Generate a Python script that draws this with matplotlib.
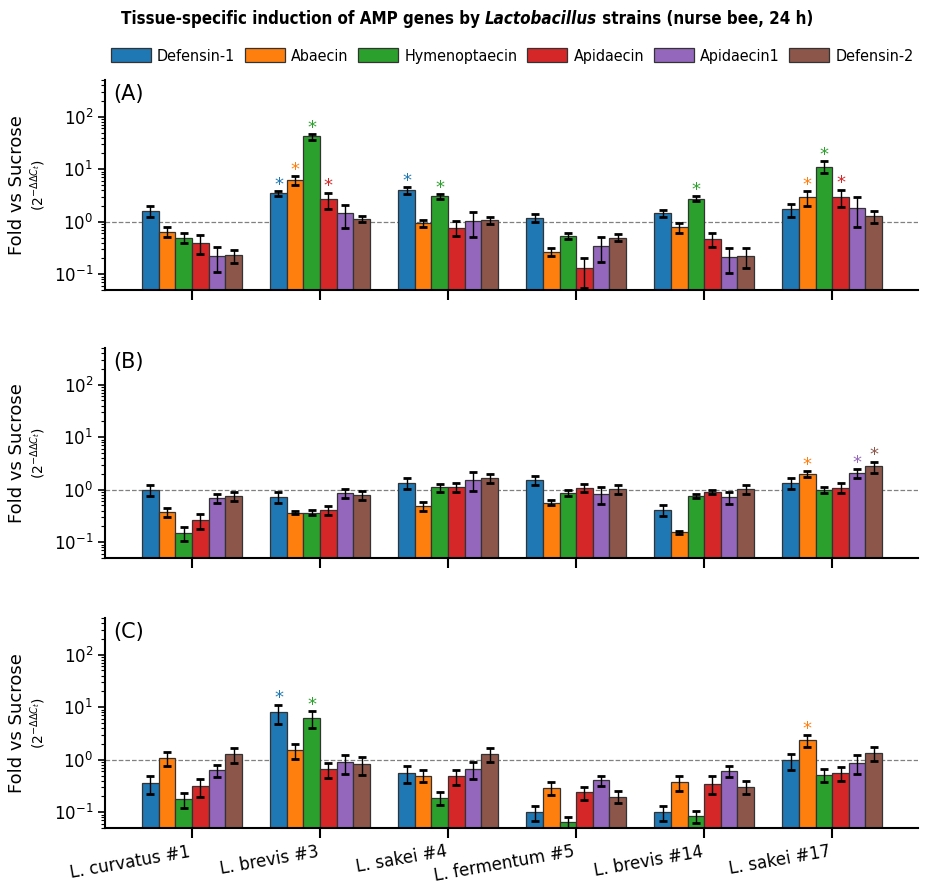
import numpy as np
import matplotlib
matplotlib.use("Agg")
import matplotlib.pyplot as plt
from matplotlib.ticker import LogLocator, NullFormatter

strains = ["L. curvatus #1", "L. brevis #3", "L. sakei #4",
           "L. fermentum #5", "L. brevis #14", "L. sakei #17"]
genes = ["Defensin-1", "Abaecin", "Hymenoptaecin", "Apidaecin", "Apidaecin1", "Defensin-2"]
colors = ["#1f77b4", "#ff7f0e", "#2ca02c", "#d62728", "#9467bd", "#8c564b"]

# fold change per strain (rows) and gene (columns)
fold_A = [[1.62, 0.65, 0.50, 0.40, 0.22, 0.23],
          [3.46, 6.2, 42.0, 2.66, 1.44, 1.12],
          [4.0, 0.93, 3.08, 0.77, 1.04, 1.06],
          [1.19, 0.27, 0.54, 0.13, 0.34, 0.50],
          [1.44, 0.78, 2.74, 0.47, 0.21, 0.22],
          [1.72, 2.9, 11.2, 3.0, 1.85, 1.28]]
err_A = [[0.37, 0.14, 0.11, 0.16, 0.11, 0.065],
         [0.40, 1.2, 5.5, 0.93, 0.67, 0.15],
         [0.57, 0.14, 0.34, 0.24, 0.52, 0.15],
         [0.19, 0.045, 0.075, 0.075, 0.17, 0.075],
         [0.23, 0.165, 0.30, 0.145, 0.106, 0.09],
         [0.49, 0.88, 2.9, 1.1, 1.07, 0.33]]
sig_A = [(1, 0), (1, 1), (1, 2), (1, 3), (2, 0), (2, 2), (4, 2), (5, 1), (5, 2), (5, 3)]

fold_B = [[1.0, 0.376, 0.15, 0.265, 0.69, 0.76],
          [0.725, 0.365, 0.365, 0.41, 0.86, 0.79],
          [1.34, 0.49, 1.11, 1.11, 1.55, 1.67],
          [1.53, 0.57, 0.88, 1.09, 0.84, 1.01],
          [0.41, 0.155, 0.76, 0.916, 0.725, 1.01],
          [1.36, 1.99, 0.99, 1.09, 2.07, 2.78]]
err_B = [[0.24, 0.07, 0.045, 0.085, 0.13, 0.15],
         [0.16, 0.02, 0.04, 0.08, 0.17, 0.14],
         [0.30, 0.09, 0.19, 0.21, 0.60, 0.30],
         [0.32, 0.065, 0.12, 0.18, 0.30, 0.20],
         [0.09, 0.01, 0.07, 0.08, 0.18, 0.20],
         [0.32, 0.27, 0.12, 0.24, 0.43, 0.66]]
sig_B = [(5, 1), (5, 4), (5, 5)]

fold_C = [[0.355, 1.09, 0.177, 0.316, 0.63, 1.28],
          [8.0, 1.5, 6.2, 0.66, 0.89, 0.83],
          [0.56, 0.50, 0.187, 0.48, 0.675, 1.30],
          [0.099, 0.294, 0.065, 0.24, 0.405, 0.198],
          [0.099, 0.377, 0.085, 0.35, 0.62, 0.307],
          [0.97, 2.36, 0.52, 0.56, 0.88, 1.34]]
err_C = [[0.13, 0.33, 0.058, 0.12, 0.17, 0.41],
         [3.2, 0.48, 2.1, 0.22, 0.36, 0.32],
         [0.20, 0.13, 0.052, 0.15, 0.24, 0.40],
         [0.032, 0.08, 0.015, 0.067, 0.095, 0.05],
         [0.032, 0.12, 0.022, 0.13, 0.15, 0.087],
         [0.33, 0.62, 0.15, 0.17, 0.35, 0.40]]
sig_C = [(1, 0), (1, 2), (5, 1)]

panels = [("(A)", fold_A, err_A, sig_A),
          ("(B)", fold_B, err_B, sig_B),
          ("(C)", fold_C, err_C, sig_C)]

fig = plt.figure(figsize=(9.35, 8.85), dpi=100)
left, width, height = 0.1123, 0.8695, 0.2373
bottoms = [0.6723, 0.3695, 0.0644]

bw = 0.13
x = np.arange(len(strains))
axes = []
for p, (label, fold, err, sig) in enumerate(panels):
    ax = fig.add_axes([left, bottoms[p], width, height])
    axes.append(ax)
    fold = np.array(fold)
    err = np.array(err)
    for g in range(len(genes)):
        pos = x + (g - 2.5) * bw
        ax.bar(pos, fold[:, g], bw, color=colors[g], edgecolor="#333333", linewidth=0.9,
               label=genes[g], zorder=2)
        ax.errorbar(pos, fold[:, g], yerr=err[:, g], fmt="none", ecolor="black",
                    elinewidth=1.0, capsize=3, capthick=2, zorder=3)
    for (s, g) in sig:
        top = fold[s, g] + err[s, g]
        ax.text(s + (g - 2.5) * bw, top * 1.05, "*", color=colors[g], ha="center",
                va="baseline", fontsize=13, zorder=4)
    ax.axhline(1.0, color="gray", linestyle="--", linewidth=0.9, zorder=1)
    ax.set_yscale("log")
    ax.set_ylim(0.05, 500)
    ax.set_xlim(-0.68, 5.67)
    ax.yaxis.set_major_locator(LogLocator(base=10, numticks=10))
    ax.yaxis.set_minor_locator(LogLocator(base=10, subs=np.arange(2, 10), numticks=20))
    ax.yaxis.set_minor_formatter(NullFormatter())
    ax.tick_params(axis="y", which="major", labelsize=12, length=5, width=1.2)
    ax.tick_params(axis="y", which="minor", length=3, width=0.8)
    ax.tick_params(axis="x", which="major", length=7, width=1.5)
    ax.set_xticks(x)
    if p == 2:
        ax.set_xticklabels(strains, rotation=10, ha="right", fontsize=12)
    else:
        ax.set_xticklabels([])
    for side in ["top", "right"]:
        ax.spines[side].set_visible(False)
    ax.spines["left"].set_linewidth(1.5)
    ax.spines["bottom"].set_linewidth(1.5)
    ax.text(0.01, 0.98, label, transform=ax.transAxes, fontsize=15, va="top", ha="left")
    ax.text(-0.108, 0.5, "Fold vs Sucrose", transform=ax.transAxes, rotation=90,
            fontsize=13, ha="center", va="center")
    ax.text(-0.082, 0.5, r"$(2^{-\Delta\Delta C_t})$", transform=ax.transAxes,
            rotation=90, fontsize=10, ha="center", va="center")

# title in three pieces so the genus can be italic
fig.canvas.draw()
renderer = fig.canvas.get_renderer()
parts = [("Tissue-specific induction of AMP genes by ", "normal"),
         ("Lactobacillus", "italic"),
         (" strains (nurse bee, 24 h)", "normal")]
texts = []
total = 0
for s, style in parts:
    t = fig.text(0, 0.978, s, family="DejaVu Sans", fontstretch="condensed",
                 fontweight="bold", fontstyle=style, fontsize=12.2,
                 va="center", ha="left")
    w = t.get_window_extent(renderer).width
    texts.append((t, w))
    total += w
xpix = 467 - total / 2
for t, w in texts:
    t.set_x(xpix / fig.bbox.width)
    xpix += w

handles, labels = axes[0].get_legend_handles_labels()
fig.legend(handles, labels, loc="center", bbox_to_anchor=(0.548, 0.937), ncol=6,
           frameon=False, prop={"family": "DejaVu Sans", "stretch": "condensed", "size": 11.5},
           handlelength=2.5, handleheight=1.0, columnspacing=0.6, handletextpad=0.4)

fig.savefig("out.png", dpi=100)
